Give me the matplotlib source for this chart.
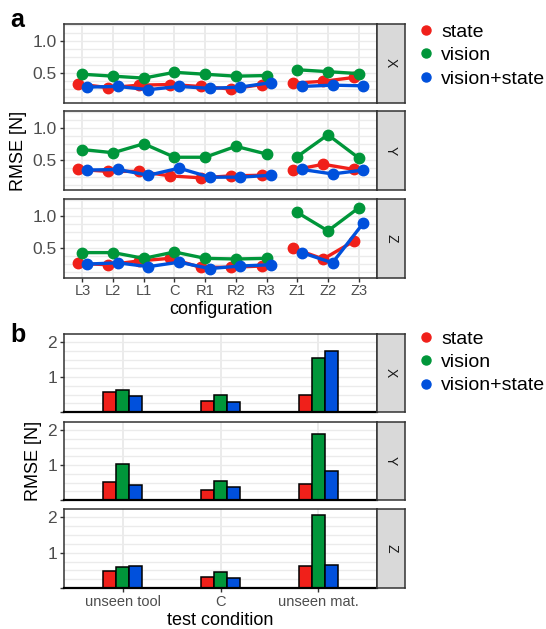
import numpy as np
import matplotlib
matplotlib.use("Agg")
import matplotlib.pyplot as plt
from matplotlib.lines import Line2D

plt.rcParams['font.family'] = ['Liberation Sans', 'DejaVu Sans']

# ---- data ----
configs = ["L3", "L2", "L1", "C", "R1", "R2", "R3", "Z1", "Z2", "Z3"]
axes_names = ["X", "Y", "Z"]
models = ["state", "vision", "vision+state"]
colors = ["#f0201a", "#00963a", "#0050dc"]

# panel a: RMSE per configuration (rows: X, Y, Z)
state_cfg = [
    [0.33, 0.27, 0.31, 0.32, 0.29, 0.25, 0.32, 0.34, 0.37, 0.43],
    [0.36, 0.33, 0.33, 0.26, 0.23, 0.26, 0.27, 0.35, 0.44, 0.36],
    [0.26, 0.24, 0.30, 0.34, 0.20, 0.20, 0.22, 0.50, 0.33, 0.61],
]
vision_cfg = [
    [0.48, 0.45, 0.42, 0.51, 0.48, 0.45, 0.46, 0.55, 0.52, 0.49],
    [0.67, 0.62, 0.76, 0.55, 0.55, 0.72, 0.60, 0.56, 0.90, 0.54],
    [0.43, 0.43, 0.34, 0.44, 0.34, 0.33, 0.34, 1.06, 0.77, 1.13],
]
vs_cfg = [
    [0.28, 0.29, 0.24, 0.29, 0.26, 0.28, 0.35, 0.29, 0.31, 0.30],
    [0.35, 0.36, 0.27, 0.38, 0.24, 0.24, 0.27, 0.36, 0.29, 0.35],
    [0.25, 0.27, 0.21, 0.28, 0.18, 0.22, 0.24, 0.43, 0.27, 0.89],
]

# panel b: RMSE per test condition
conditions = ["unseen tool", "C", "unseen mat."]
state_cond = [[0.58, 0.32, 0.50], [0.52, 0.28, 0.45], [0.47, 0.32, 0.61]]
vision_cond = [[0.62, 0.50, 1.56], [1.02, 0.55, 1.88], [0.60, 0.44, 2.07]]
vs_cond = [[0.45, 0.30, 1.74], [0.43, 0.37, 0.83], [0.61, 0.28, 0.64]]

W, H = 546, 629
fig = plt.figure(figsize=(W / 100, H / 100), dpi=100)


def box(x0, y0, x1, y1):
    return [x0 / W, 1 - y1 / H, (x1 - x0) / W, (y1 - y0) / H]


border = "#333333"
gridc = "#EBEBEB"
tickc = "#4D4D4D"


def add_strip(y0, y1, label):
    s = fig.add_axes(box(377, y0, 405, y1))
    s.set_facecolor("#D9D9D9")
    s.set_xticks([])
    s.set_yticks([])
    for sp in s.spines.values():
        sp.set_color(border)
        sp.set_linewidth(1.1)
    s.text(0.5, 0.5, label, rotation=-90, ha="center", va="center",
           fontsize=10, color="#1A1A1A", transform=s.transAxes)


# ---- panel a ----
a_rows = [(23.5, 102.5), (111, 190), (199, 277.5)]
x = np.arange(1, len(configs) + 1)
dodge = [-0.15, 0.0, 0.15]
series_cfg = [state_cfg, vision_cfg, vs_cfg]
for i, (y0, y1) in enumerate(a_rows):
    ax = fig.add_axes(box(64, y0, 377, y1))
    ax.set_xlim(0.4, 10.6)
    ax.set_ylim(0.04, 1.27)
    for yy in np.arange(0.125, 1.27, 0.125):
        ax.axhline(yy, color=gridc, lw=1.0, zorder=0)
    for xx in x:
        ax.axvline(xx, color=gridc, lw=1.4, zorder=0)
    for k in range(3):
        vals = np.array(series_cfg[k][i])
        xs = x + dodge[k]
        for seg in (slice(0, 7), slice(7, 10)):
            ax.plot(xs[seg], vals[seg], color=colors[k], lw=2.4,
                    marker="o", ms=7.5, zorder=2 + k)
    ax.set_yticks([0.5, 1.0])
    ax.set_yticklabels(["0.5", "1.0"])
    ax.set_xticks(x)
    if i == 2:
        ax.set_xticklabels(configs)
        ax.set_xlabel("configuration", fontsize=13, labelpad=2)
    else:
        ax.set_xticklabels([])
        ax.tick_params(axis="x", length=0)
    ax.tick_params(axis="y", labelsize=12.5, colors=border, labelcolor=tickc,
                   length=3, width=1, pad=2)
    ax.tick_params(axis="x", labelsize=10.5, colors=border, labelcolor=tickc,
                   length=3 if i == 2 else 0, width=1, pad=2)
    for sp in ax.spines.values():
        sp.set_color(border)
        sp.set_linewidth(1.1)
    add_strip(y0, y1, axes_names[i])
    if i == 1:
        ax.set_ylabel("RMSE [N]", fontsize=13, labelpad=4)

# ---- panel b ----
b_rows = [(334, 412), (421.7, 500), (509, 588)]
xb = np.arange(1, len(conditions) + 1)
bw = 0.133
series_cond = [state_cond, vision_cond, vs_cond]
for i, (y0, y1) in enumerate(b_rows):
    ax = fig.add_axes(box(64, y0, 377, y1))
    ax.set_xlim(0.4, 3.6)
    ax.set_ylim(0, 2.24)
    for yy in np.arange(0.25, 2.24, 0.25):
        ax.axhline(yy, color=gridc, lw=1.0, zorder=0)
    for xx in xb:
        ax.axvline(xx, color=gridc, lw=1.4, zorder=0)
    for k in range(3):
        ax.bar(xb + (k - 1) * bw, series_cond[k][i], width=bw,
               color=colors[k], edgecolor="black", lw=1.1, zorder=2)
    ax.set_yticks([0, 1, 2])
    ax.set_yticklabels(["", "1", "2"])
    ax.set_xticks(xb)
    if i == 2:
        ax.set_xticklabels(conditions)
        ax.set_xlabel("test condition", fontsize=13, labelpad=2)
    else:
        ax.set_xticklabels([])
    ax.tick_params(axis="y", labelsize=12.5, colors=border, labelcolor=tickc,
                   length=3, width=1, pad=2)
    ax.tick_params(axis="x", labelsize=10.5, colors=border, labelcolor=tickc,
                   length=3 if i == 2 else 0, width=1, pad=2)
    for sp in ax.spines.values():
        sp.set_color(border)
        sp.set_linewidth(1.1)
    ax.spines["bottom"].set_color("black")
    ax.spines["bottom"].set_linewidth(1.6)
    add_strip(y0, y1, axes_names[i])
    if i == 1:
        ax.set_ylabel("RMSE [N]", fontsize=13, labelpad=4)

# ---- legends ----
handles = [Line2D([], [], ls="", marker="o", ms=6.5, color=c) for c in colors]
for ytop in (23, 330):
    fig.legend(handles, models, loc="upper left",
               bbox_to_anchor=(418 / W, 1 - ytop / H), frameon=False,
               fontsize=14, handlelength=0.8, handletextpad=0.4,
               labelspacing=0.3, borderpad=0, borderaxespad=0)

fig.text(10 / W, 1 - 27 / H, "a", fontsize=18, fontweight="bold", ha="left")
fig.text(10 / W, 1 - 342 / H, "b", fontsize=18, fontweight="bold", ha="left")

fig.savefig("out.png", dpi=100)
